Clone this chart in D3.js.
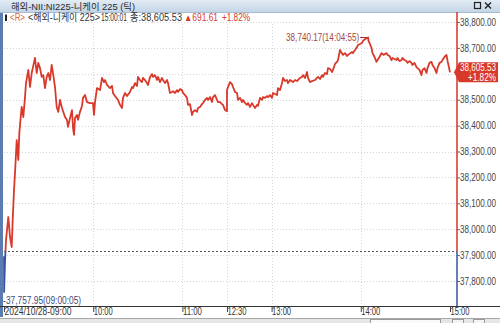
<!DOCTYPE html>
<html>
<head>
<meta charset="utf-8">
<script src="https://cdn.jsdelivr.net/npm/d3@7"></script>
<style>
  body { margin: 0; background: #fff; }
  svg { display: block; }
  text { font-family: "Liberation Sans", "Noto Sans CJK KR", sans-serif; }
</style>
</head>
<body>
<svg id="tick-chart" width="500" height="323"></svg>
<script>
// Nikkei 225 intraday tick chart, 2024/10/28

const tickTimes = [
  "09:00:00","09:00:05","09:00:40","09:01:21","09:02:54","09:04:02","09:05:11","09:05:51","09:06:44","09:07:24",
  "09:08:33","09:09:37","09:10:18","09:11:14","09:11:54","09:12:59","09:14:08","09:14:48","09:16:21","09:17:29",
  "09:18:38","09:19:30","09:20:51","09:22:00","09:23:04","09:24:13","09:25:22","09:26:26","09:27:35","09:28:43",
  "09:29:48","09:30:57","09:32:05","09:33:10","09:34:18","09:35:27","09:36:32","09:37:40","09:39:01","09:41:02",
  "09:42:23","09:43:03","09:44:24","09:45:44","09:46:25","09:47:05","09:47:46","09:49:06","09:49:47","09:51:07",
  "09:52:28","09:53:08","09:54:29","09:55:50","09:57:51","09:59:52","10:00:32","10:01:13","10:02:33","10:04:35",
  "10:05:55","10:07:16","10:07:56","10:09:17","10:11:18","10:12:39","10:13:19","10:14:40","10:16:41","10:18:02",
  "10:19:22","10:20:03","10:21:24","10:22:44","10:24:45","10:26:06","10:26:46","10:28:07","10:29:28","10:30:08",
  "10:31:29","10:32:50","10:33:30","10:34:51","10:36:11","10:36:52","10:38:13","10:39:33","10:40:14","10:41:34",
  "10:42:55","10:43:35","10:44:56","10:46:17","10:46:57","10:48:18","10:49:39","10:50:19","10:51:40","10:53:00",
  "10:53:41","10:55:02","10:56:22","10:57:03","10:58:23","10:59:44","11:00:24","11:01:45","11:03:06","11:03:46",
  "11:05:07","11:06:28","11:07:08","11:08:29","11:09:49","11:10:30","11:11:51","11:13:11","11:13:52","11:15:12",
  "11:16:33","11:17:13","11:18:34","11:19:55","11:20:35","11:21:56","11:23:17","11:23:57","11:25:18","11:26:38",
  "11:27:19","11:28:40","11:29:59",
  "12:30:00","12:30:40","12:32:01","12:33:22","12:34:02","12:35:23","12:36:44","12:37:24","12:38:45","12:40:05",
  "12:40:46","12:42:06","12:43:27","12:44:08","12:45:28","12:46:49","12:47:29","12:48:50","12:50:11","12:50:51",
  "12:52:12","12:53:33","12:54:13","12:55:34","12:56:54","12:57:35","12:58:55","13:00:16","13:00:57","13:02:17",
  "13:03:38","13:04:18","13:05:39","13:07:00","13:07:40","13:09:01","13:10:22","13:11:02","13:12:23","13:14:24",
  "13:15:44","13:17:05","13:19:06","13:20:27","13:21:07","13:22:28","13:23:49","13:24:29","13:25:50","13:27:10",
  "13:29:12","13:30:32","13:31:13","13:32:33","13:33:54","13:34:34","13:35:55","13:37:16","13:37:56","13:39:17",
  "13:40:38","13:41:18","13:42:39","13:43:59","13:44:40","13:46:01","13:46:41","13:48:02","13:49:22","13:50:43",
  "13:52:04","13:54:05","13:54:45","13:56:06","13:57:27","13:58:07","13:59:28","14:00:49","14:01:29","14:02:50",
  "14:04:55","14:05:12","14:05:52","14:07:13","14:07:53","14:09:14","14:10:34","14:11:15","14:12:35","14:13:56",
  "14:15:17","14:17:18","14:17:58","14:19:19","14:20:40","14:21:20","14:22:41","14:24:01","14:24:42","14:26:02",
  "14:27:23","14:28:03","14:29:24","14:30:45","14:31:25","14:32:46","14:34:06","14:34:47","14:36:07","14:37:28",
  "14:38:08","14:39:29","14:40:50","14:41:30","14:42:51","14:44:11","14:44:52","14:46:12","14:47:33","14:48:13",
  "14:49:34","14:50:55","14:51:35","14:52:56","14:54:17","14:54:57","14:56:18","14:57:38","14:58:30","15:00:01"
];

const tickPrices = [
  37896,37757.95,37873,37958,38047,37970,37931,38036,38151,38217,
  38344,38267,38371,38433,38472,38433,38510,38564,38615,38549,
  38603,38626,38661,38603,38642,38622,38588,38595,38545,38588,
  38603,38576,38634,38595,38549,38472,38453,38499,38468,38433,
  38422,38395,38429,38460,38391,38364,38429,38441,38422,38453,
  38476,38507,38518,38491,38487,38487,38441,38491,38545,38537,
  38584,38568,38576,38557,38545,38553,38526,38514,38499,38480,
  38468,38507,38526,38514,38530,38549,38545,38564,38553,38588,
  38576,38568,38584,38576,38564,38557,38588,38599,38588,38595,
  38576,38588,38568,38584,38576,38564,38576,38564,38526,38530,
  38533,38526,38537,38530,38541,38537,38526,38518,38507,38480,
  38483,38441,38453,38460,38453,38468,38472,38483,38487,38499,
  38507,38499,38510,38491,38510,38518,38499,38491,38491,38483,
  38480,38460,38455,
  38537,38549,38568,38560,38549,38530,38526,38499,38507,38491,
  38499,38487,38480,38487,38472,38487,38480,38468,38480,38476,
  38507,38499,38510,38507,38514,38510,38518,38507,38526,38522,
  38518,38545,38537,38564,38584,38572,38576,38564,38576,38568,
  38576,38572,38584,38588,38595,38584,38607,38584,38568,38572,
  38576,38584,38588,38580,38595,38588,38603,38599,38622,38619,
  38607,38615,38638,38646,38653,38692,38684,38673,38680,38669,
  38676,38684,38680,38692,38703,38711,38715,38719,38727,38734,
  38740.17,38727,38719,38700,38680,38665,38646,38653,38665,38680,
  38673,38680,38673,38669,38653,38661,38657,38653,38661,38649,
  38653,38661,38653,38649,38642,38649,38642,38634,38642,38626,
  38622,38615,38595,38615,38622,38603,38622,38642,38646,38634,
  38622,38603,38622,38642,38646,38653,38665,38673,38646,38605.53
];

const prevClose = 37913.92;
const priceTicks = [37800, 37900, 38000, 38100, 38200, 38300, 38400, 38500, 38600, 38700, 38800];
const sessionBreaks = ["09:00:00", "11:30:00", "12:30:00", "15:00:00"];
const timeTicks = ["09:00:00", "10:00:00", "11:00:00", "12:30:00", "13:00:00", "14:00:00", "15:00:00"];
const timeTickLabels = ["2024/10/28-09:00", "10:00", "11:00", "12:30", "13:00", "14:00", "15:00"];

function toMinutes(s) {
    let p = s.split(":").map(Number);
    return p[0] * 60 + p[1] + (p[2] || 0) / 60;
}

// squeeze text into the narrow bitmap-like width of the terminal font
function fit(sel, w) {
    sel.attr("textLength", w).attr("lengthAdjust", "spacingAndGlyphs");
}

class TickChart {
    constructor(parentElement) {
        this.parentElement = parentElement;
        this.data = tickTimes.map((t, i) => ({ time: t, t: toMinutes(t), price: tickPrices[i] }));
    }

    initVis() {
        let vis = this;

        vis.width = 500;
        vis.height = 323;
        vis.plot = { left: 4, right: 450, axisX: 457, top: 12, bottom: 306 };

        vis.svg = d3.select(vis.parentElement);

        // time scale with the lunch break squeezed out
        vis.x = d3.scaleLinear()
            .domain(sessionBreaks.map(toMinutes))
            .range([vis.plot.left, 227, 227, vis.plot.right]);

        vis.y = d3.scaleLinear()
            .domain([37800, 38800])
            .range([281, 22]);

        let defs = vis.svg.append("defs");
        let grad = defs.append("linearGradient").attr("id", "title-grad")
            .attr("x1", 0).attr("y1", 0).attr("x2", 0).attr("y2", 1);
        grad.append("stop").attr("offset", "0%").attr("stop-color", "#e3ecf5");
        grad.append("stop").attr("offset", "100%").attr("stop-color", "#c4d5e6");

        let yPrev = vis.y(prevClose);
        defs.append("clipPath").attr("id", "clip-up")
            .append("rect").attr("x", 0).attr("y", 0).attr("width", vis.width).attr("height", yPrev);
        defs.append("clipPath").attr("id", "clip-down")
            .append("rect").attr("x", 0).attr("y", yPrev).attr("width", vis.width).attr("height", vis.height - yPrev);

        // window title bar
        vis.svg.append("rect").attr("x", 0).attr("y", 0).attr("width", vis.width).attr("height", 12)
            .attr("fill", "url(#title-grad)");
        vis.svg.append("line").attr("x1", 0).attr("x2", vis.width).attr("y1", 12.5).attr("y2", 12.5)
            .attr("stroke", "#a9bccf");
        vis.svg.append("text").attr("x", 11).attr("y", 9.5)
            .attr("font-size", "9px").attr("fill", "#2b2b2b")
            .call(fit, 124)
            .text("해외-NII:NI225-니케이 225 (틱)");
        vis.svg.append("rect").attr("x", 474.5).attr("y", 2.5).attr("width", 6).attr("height", 6)
            .attr("fill", "none").attr("stroke", "#222").attr("stroke-width", 1.2);
        vis.svg.append("path").attr("d", "M485,2.5L491,8.5M491,2.5L485,8.5")
            .attr("stroke", "#222").attr("stroke-width", 1.4);

        // left frame bar
        vis.svg.append("rect").attr("x", 0).attr("y", 13).attr("width", 3).attr("height", 304)
            .attr("fill", "#5a7cb0");

        // header line
        vis.svg.append("rect").attr("x", 5).attr("y", 14.5).attr("width", 2).attr("height", 6.5).attr("fill", "#222");
        let header = [
            { x: 10, w: 15, text: "<R>", color: "#e4683e" },
            { x: 28, w: 72, text: "<해외-니케이 225>", color: "#333" },
            { x: 101, w: 26, text: "15:00:01", color: "#333" },
            { x: 130, w: 52, text: "종:38,605.53", color: "#333" },
            { x: 184, w: 34, text: "▲691.61", color: "#d63a2c" },
            { x: 222, w: 28, text: "+1.82%", color: "#d63a2c" }
        ];
        vis.svg.selectAll(".header-text").data(header).enter().append("text")
            .attr("class", "header-text")
            .attr("x", d => d.x).attr("y", 21)
            .attr("font-size", "10px")
            .attr("fill", d => d.color)
            .attr("textLength", d => d.w).attr("lengthAdjust", "spacingAndGlyphs")
            .text(d => d.text);

        vis.updateVis();
    }

    updateVis() {
        let vis = this;
        let p = vis.plot;
        let last = vis.data[vis.data.length - 1];
        let cy = vis.y(last.price);

        // grid
        vis.svg.append("g").selectAll("line").data(priceTicks).enter().append("line")
            .attr("x1", p.left).attr("x2", p.axisX)
            .attr("y1", d => Math.round(vis.y(d)) + 0.5).attr("y2", d => Math.round(vis.y(d)) + 0.5)
            .attr("stroke", "#d6d6d6").attr("stroke-dasharray", "1,2");
        vis.svg.append("g").selectAll("line").data(timeTicks.slice(1, -1)).enter().append("line")
            .attr("x1", d => Math.round(vis.x(toMinutes(d))) + 0.5).attr("x2", d => Math.round(vis.x(toMinutes(d))) + 0.5)
            .attr("y1", 24).attr("y2", p.bottom)
            .attr("stroke", "#d6d6d6").attr("stroke-dasharray", "1,2");

        // previous close
        let yPrev = Math.round(vis.y(prevClose)) + 0.5;
        vis.svg.append("line")
            .attr("x1", p.left).attr("x2", p.axisX).attr("y1", yPrev).attr("y2", yPrev)
            .attr("stroke", "#555").attr("stroke-dasharray", "2,2");

        // price line, red above previous close and blue below
        let line = d3.line().x(d => vis.x(d.t)).y(d => vis.y(d.price));
        vis.svg.append("path").datum(vis.data)
            .attr("clip-path", "url(#clip-up)")
            .attr("fill", "none").attr("stroke", "#d8392b").attr("stroke-width", 1.8)
            .attr("stroke-linejoin", "round").attr("d", line);
        vis.svg.append("path").datum(vis.data)
            .attr("clip-path", "url(#clip-down)")
            .attr("fill", "none").attr("stroke", "#3553a3").attr("stroke-width", 1.8)
            .attr("stroke-linejoin", "round").attr("d", line);

        // high / low labels
        let hi = vis.data[d3.maxIndex(vis.data, d => d.price)];
        let lo = vis.data[d3.minIndex(vis.data, d => d.price)];
        let fmt = d3.format(",.2f");
        let hx = vis.x(hi.t), hy = vis.y(hi.price);
        vis.svg.append("line").attr("x1", hx - 8).attr("x2", hx - 1).attr("y1", hy).attr("y2", hy)
            .attr("stroke", "#a03a30");
        vis.svg.append("text").attr("x", hx - 82).attr("y", hy + 3.5)
            .attr("font-size", "10px").attr("fill", "#a4483c")
            .call(fit, 73)
            .text(fmt(hi.price) + "(" + hi.time + ")");
        let lx = vis.x(lo.t), ly = vis.y(lo.price);
        vis.svg.append("text").attr("x", lx - 1).attr("y", ly + 12)
            .attr("font-size", "10px").attr("fill", "#3c4a78")
            .call(fit, 78)
            .text("-" + fmt(lo.price) + "(" + lo.time + ")");

        // right price axis (the label under the current price tag stays hidden)
        let yAxis = d3.axisRight(vis.y).tickValues(priceTicks.filter(v => Math.abs(vis.y(v) - cy) > 10))
            .tickSize(3).tickPadding(0)
            .tickFormat(d3.format(",.2f"));
        let yg = vis.svg.append("g").attr("transform", `translate(${p.axisX},0)`).call(yAxis);
        yg.select(".domain").remove();
        yg.selectAll(".tick line").attr("stroke", "#666");
        yg.selectAll(".tick text").attr("font-size", "10px").attr("fill", "#444")
            .attr("font-family", "\"Liberation Sans\", \"Noto Sans CJK KR\", sans-serif")
            .call(fit, 36);
        vis.svg.append("line").attr("x1", p.axisX).attr("x2", p.axisX).attr("y1", p.top).attr("y2", vis.y(prevClose))
            .attr("stroke", "#d23526").attr("stroke-width", 1.5);
        vis.svg.append("line").attr("x1", p.axisX).attr("x2", p.axisX).attr("y1", vis.y(prevClose)).attr("y2", p.bottom)
            .attr("stroke", "#34559e").attr("stroke-width", 1.5);

        // current price tag
        vis.svg.append("path")
            .attr("d", `M${p.axisX - 3},${cy}L${p.axisX + 2},${cy - 10}L498,${cy - 10}L498,${cy + 10}L${p.axisX + 2},${cy + 10}Z`)
            .attr("fill", "#d8392b");
        vis.svg.append("text").attr("x", 460).attr("y", cy - 1.5)
            .attr("font-size", "10px").attr("fill", "#fff")
            .call(fit, 36)
            .text(fmt(last.price));
        vis.svg.append("text").attr("x", 468).attr("y", cy + 8.5)
            .attr("font-size", "10px").attr("fill", "#fff")
            .call(fit, 28)
            .text("+1.82%");

        // bottom time axis
        let xAxis = d3.axisBottom(vis.x).tickValues(timeTicks.map(toMinutes)).tickSize(6).tickPadding(0)
            .tickFormat((d, i) => timeTickLabels[i]);
        let xg = vis.svg.append("g").attr("transform", `translate(0,${p.bottom})`).call(xAxis);
        xg.select(".domain").remove();
        xg.selectAll(".tick line").attr("stroke", "#444");
        xg.selectAll(".tick text").attr("text-anchor", "start").attr("x", 0).attr("y", 2)
            .attr("font-size", "10px").attr("fill", "#333")
            .attr("font-family", "\"Liberation Sans\", \"Noto Sans CJK KR\", sans-serif")
            .each(function(d, i) { d3.select(this).call(fit, i === 0 ? 67 : 19); });
        vis.svg.append("line").attr("x1", 0).attr("x2", vis.width).attr("y1", p.bottom + 0.5).attr("y2", p.bottom + 0.5)
            .attr("stroke", "#333");

        // scroll strip
        vis.svg.append("rect").attr("x", 0).attr("y", 318).attr("width", vis.width).attr("height", 5)
            .attr("fill", "#e6e6e6");
        vis.svg.append("line").attr("x1", 0).attr("x2", vis.width).attr("y1", 318.5).attr("y2", 318.5)
            .attr("stroke", "#a8a8a8");
        vis.svg.append("rect").attr("x", 370.5).attr("y", 319.5).attr("width", 70).attr("height", 4)
            .attr("fill", "#fafafa").attr("stroke", "#9a9a9a");
        vis.svg.append("rect").attr("x", 452.5).attr("y", 319.5).attr("width", 11).attr("height", 4)
            .attr("fill", "#f4f4f4").attr("stroke", "#9a9a9a");
        vis.svg.append("rect").attr("x", 473.5).attr("y", 319.5).attr("width", 11).attr("height", 4)
            .attr("fill", "#f4f4f4").attr("stroke", "#9a9a9a");
    }
}

let chart = new TickChart("#tick-chart");
chart.initVis();
</script>
</body>
</html>
